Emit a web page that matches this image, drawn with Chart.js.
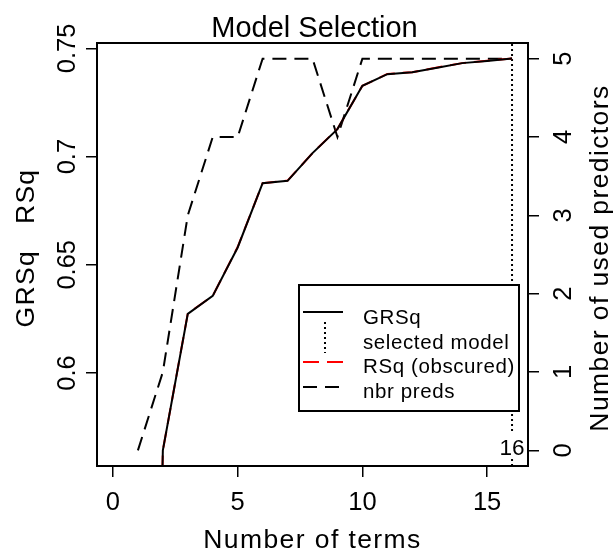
<!DOCTYPE html>
<html>
<head>
<meta charset="utf-8">
<script src="https://cdn.jsdelivr.net/npm/chart.js@4.4.1/dist/chart.umd.min.js"></script>
<style>
  html, body { margin: 0; padding: 0; background: #fff; }
  #wrap { width: 614px; height: 557px; position: relative; }
</style>
</head>
<body>
<div id="wrap"><canvas id="chart"></canvas></div>
<script>
// number of terms in each candidate model
const nTerms = [1, 2, 3, 4, 5, 6, 7, 8, 9, 10, 11, 12, 13, 14, 15, 16];
// generalized R-squared (intercept-only model is 0, off the bottom of the plot)
const grsq = [0, 0.5642, 0.6273, 0.6356, 0.6580, 0.6877, 0.6888, 0.7016, 0.7127, 0.7327, 0.7381, 0.7390, 0.7411, 0.7432, 0.7442, 0.7453];
// R-squared, almost the same as GRSq so it is hidden under it
const rsq = [0, 0.5642, 0.6275, 0.6356, 0.6582, 0.6877, 0.6889, 0.7016, 0.7128, 0.7327, 0.7382, 0.7390, 0.7412, 0.7432, 0.7443, 0.7453];
// number of used predictors (right axis)
const nPreds = [0, 1, 3, 4, 4, 5, 5, 5, 4, 5, 5, 5, 5, 5, 5, 5];
const selectedTerms = 16;

// axis ticks and limits
const xTicks = [0, 5, 10, 15];
const yTicks = [0.6, 0.65, 0.7, 0.75];
const y2Ticks = [0, 1, 2, 3, 4, 5];
const xMin = -0.64, xMax = 16.64;
const yMin = 0.557, yMax = 0.7525;
const y2Min = -0.2, y2Max = 5.2;

const FONT = '"Liberation Sans", Arial, Helvetica, sans-serif';

function pts(xs, ys) {
    return xs.map((x, i) => ({ x: x, y: ys[i] }));
}

// draw text; rot = true turns it to read bottom-to-top like R's axis labels
function drawText(ctx, s, x, y, size, opts = {}) {
    ctx.save();
    ctx.font = size + 'px ' + FONT;
    ctx.fillStyle = '#000';
    ctx.textAlign = opts.align || 'center';
    ctx.textBaseline = 'alphabetic';
    if ('letterSpacing' in ctx) ctx.letterSpacing = (opts.ls || 0) + 'px';
    ctx.translate(x, y);
    if (opts.rot) ctx.rotate(-Math.PI / 2);
    ctx.fillText(s, 0, 0);
    ctx.restore();
}

function line(ctx, x1, y1, x2, y2, color, width, dash) {
    ctx.save();
    ctx.strokeStyle = color;
    ctx.lineWidth = width;
    ctx.setLineDash(dash || []);
    ctx.beginPath();
    ctx.moveTo(x1, y1);
    ctx.lineTo(x2, y2);
    ctx.stroke();
    ctx.restore();
}

const rPlot = {
    id: 'rPlot',
    beforeDraw(chart) {
        const ctx = chart.ctx;
        ctx.save();
        ctx.fillStyle = '#fff';
        ctx.fillRect(0, 0, chart.width, chart.height);
        ctx.restore();
    },
    afterDraw(chart) {
        const ctx = chart.ctx;
        const a = chart.chartArea;
        const sx = chart.scales.x, sy = chart.scales.y, sy2 = chart.scales.y2;

        // label of the selected model, with a white patch behind it
        const selX = sx.getPixelForValue(selectedTerms);
        ctx.fillStyle = '#fff';
        ctx.fillRect(selX - 14, 432, 28, 25);
        drawText(ctx, String(selectedTerms), selX, 455, 22.5);

        // legend
        const lx = 299, ly = 285, lw = 220, lh = 126;
        ctx.fillStyle = '#fff';
        ctx.fillRect(lx, ly, lw, lh);
        ctx.save();
        ctx.strokeStyle = '#000';
        ctx.lineWidth = 2;
        ctx.strokeRect(lx, ly, lw, lh);
        ctx.restore();
        line(ctx, 303, 312, 343, 312, '#000', 2);
        line(ctx, 325, 322, 325, 353, '#000', 2, [2, 3]);
        line(ctx, 303, 362, 343, 362, '#ff0000', 2, [16, 8]);
        line(ctx, 303, 387, 343, 387, '#000', 2, [14, 8]);
        const legendTexts = ['GRSq', 'selected model', 'RSq (obscured)', 'nbr preds'];
        legendTexts.forEach((t, i) => {
            drawText(ctx, t, 363, 324 + i * 24.5, 20.5, { align: 'left', ls: 0.6 });
        });

        // plot box
        ctx.save();
        ctx.strokeStyle = '#000';
        ctx.lineWidth = 2;
        ctx.strokeRect(a.left, a.top, a.right - a.left, a.bottom - a.top);
        ctx.restore();

        // title and axis titles
        drawText(ctx, 'Model Selection', (a.left + a.right) / 2 + 2, 36.5, 29);
        drawText(ctx, 'Number of terms', (a.left + a.right) / 2, 548, 26.5, { ls: 1.4 });
        drawText(ctx, 'GRSq   RSq', 34, 248, 26.5, { rot: true, ls: 1.3 });
        drawText(ctx, 'Number of used predictors', 608, 258, 26.5, { rot: true, ls: 1.4 });

        // tick labels
        xTicks.forEach(v => drawText(ctx, String(v), sx.getPixelForValue(v), 510, 25.5));
        yTicks.forEach(v => drawText(ctx, String(v), 75, sy.getPixelForValue(v), 25.5, { rot: true }));
        y2Ticks.forEach(v => drawText(ctx, String(v), 571, sy2.getPixelForValue(v), 25.5, { rot: true }));
    }
};

const axisGrid = {
    display: true,
    drawOnChartArea: false,
    drawTicks: true,
    tickLength: 11,
    color: '#000',
    lineWidth: 1.5
};

new Chart(document.getElementById('chart'), {
    type: 'line',
    data: {
        datasets: [
            {
                label: 'GRSq',
                data: pts(nTerms, grsq),
                yAxisID: 'y',
                borderColor: '#000',
                borderWidth: 2,
                pointRadius: 0,
                order: 0
            },
            {
                label: 'RSq (obscured)',
                data: pts(nTerms, rsq),
                yAxisID: 'y',
                borderColor: '#ff0000',
                borderWidth: 2,
                borderDash: [16, 8],
                pointRadius: 0,
                order: 1
            },
            {
                label: 'nbr preds',
                data: pts(nTerms, nPreds),
                yAxisID: 'y2',
                borderColor: '#000',
                borderWidth: 2,
                borderDash: [14, 8],
                pointRadius: 0,
                order: 2
            },
            {
                label: 'selected model',
                data: [{ x: selectedTerms, y: yMin }, { x: selectedTerms, y: yMax }],
                yAxisID: 'y',
                borderColor: '#000',
                borderWidth: 2,
                borderDash: [2, 3],
                pointRadius: 0,
                order: 3
            }
        ]
    },
    options: {
        responsive: true,
        maintainAspectRatio: false,
        animation: false,
        layout: { padding: { top: 43, left: 0, right: 0, bottom: 0 } },
        plugins: {
            legend: { display: false },
            title: { display: false },
            tooltip: { enabled: false }
        },
        elements: { line: { tension: 0 } },
        scales: {
            x: {
                type: 'linear',
                min: xMin,
                max: xMax,
                grid: axisGrid,
                border: { display: true, color: '#000', width: 2 },
                ticks: { display: false },
                afterBuildTicks: s => { s.ticks = xTicks.map(v => ({ value: v })); },
                afterFit: s => { s.height = 91; }
            },
            y: {
                type: 'linear',
                position: 'left',
                min: yMin,
                max: yMax,
                grid: axisGrid,
                border: { display: true, color: '#000', width: 2 },
                ticks: { display: false },
                afterBuildTicks: s => { s.ticks = yTicks.map(v => ({ value: v })); },
                afterFit: s => { s.width = 97; }
            },
            y2: {
                type: 'linear',
                position: 'right',
                min: y2Min,
                max: y2Max,
                grid: axisGrid,
                border: { display: true, color: '#000', width: 2 },
                ticks: { display: false },
                afterBuildTicks: s => { s.ticks = y2Ticks.map(v => ({ value: v })); },
                afterFit: s => { s.width = 86; }
            }
        }
    },
    plugins: [rPlot]
});
</script>
</body>
</html>
